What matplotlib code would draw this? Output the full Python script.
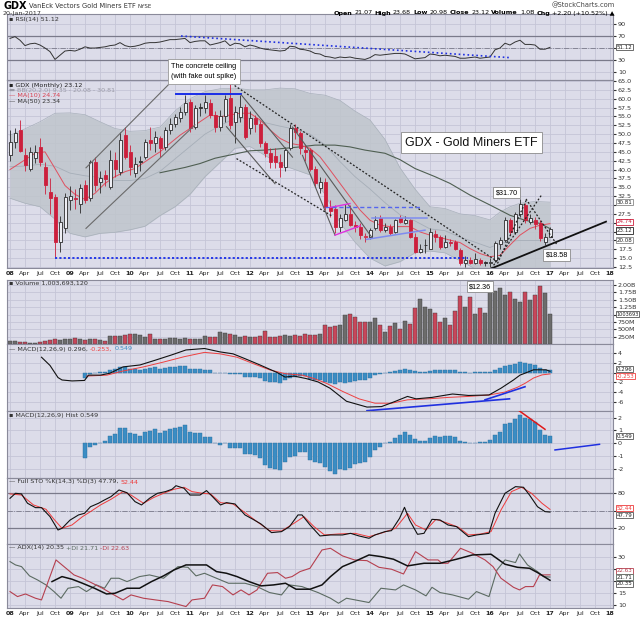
import numpy as np
import matplotlib.pyplot as plt
from matplotlib.patches import Rectangle

plt.rcParams['axes.unicode_minus'] = False

W, H = 640, 619

# ---- monthly candles, month 0 = Jan 2008 ... month 108 = Jan 2017 ----
opens = [44.1, 47.9, 51.2, 44.1, 40.3, 43.4, 46.4, 40.8, 33.7, 32.3, 19.6, 23.4,
         31.5, 32.0, 30.4, 35.6, 31.9, 42.2, 36.6, 38.4, 35.2, 42.7, 39.4, 49.7,
         45.0, 38.9, 42.4, 43.6, 48.3, 47.4, 48.8, 46.4, 51.2, 53.0, 54.5, 56.3,
         59.2, 52.1, 57.6, 57.3, 58.7, 55.4, 52.1, 55.0, 60.1, 53.5, 54.9, 57.7,
         51.6, 54.5, 53.0, 47.4, 44.6, 43.8, 42.0, 40.8, 46.0, 51.6, 50.2, 45.5,
         45.5, 40.3, 34.7, 36.6, 29.5, 29.0, 23.9, 25.7, 27.6, 24.3, 23.9, 21.0,
         21.0, 23.4, 26.2, 22.9, 23.9, 22.4, 26.2, 25.0, 25.7, 21.0, 16.8, 18.8,
         17.7, 21.7, 21.0, 18.2, 19.6, 19.6, 17.3, 13.5, 14.4, 13.5, 14.5, 13.8,
         13.7, 14.4, 19.1, 20.1, 25.7, 22.4, 27.6, 30.0, 25.3, 25.9, 24.8, 19.6,
         21.07]
highs = [51.2, 51.8, 54.0, 46.0, 46.5, 46.8, 48.8, 42.0, 37.5, 33.0, 27.0, 33.5,
         35.3, 34.5, 36.0, 37.0, 42.8, 43.5, 39.5, 39.8, 45.5, 45.0, 50.7, 52.1,
         47.0, 43.5, 43.8, 48.5, 52.1, 51.0, 49.5, 52.0, 54.5, 55.8, 57.8, 61.0,
         59.8, 58.3, 58.8, 61.0, 60.0, 56.5, 56.8, 61.0, 64.3, 58.0, 61.0, 58.5,
         56.5, 55.5, 53.8, 48.0, 46.0, 46.0, 44.5, 46.5, 53.0, 53.0, 51.0, 47.0,
         46.0, 41.0, 38.0, 37.5, 31.5, 30.0, 27.5, 30.3, 30.0, 25.5, 25.0, 22.0,
         23.5, 27.0, 27.3, 25.0, 24.5, 26.0, 27.3, 26.8, 26.0, 22.0, 19.0, 20.5,
         23.5, 23.0, 21.5, 21.5, 20.5, 20.0, 17.8, 15.5, 15.3, 16.5, 15.0, 14.2,
         15.0, 19.8, 21.0, 26.5, 26.3, 28.0, 31.7, 30.6, 27.5, 26.5, 25.8, 22.0,
         23.68]
lows = [42.5, 46.0, 45.0, 39.5, 39.5, 41.8, 41.0, 33.0, 27.5, 15.4, 16.8, 22.0,
        28.5, 29.0, 27.8, 30.5, 31.0, 34.0, 33.5, 35.5, 34.5, 38.0, 38.5, 43.0,
        38.5, 38.0, 39.5, 43.0, 45.5, 45.0, 43.5, 45.5, 50.0, 52.0, 53.5, 55.5,
        50.5, 51.5, 55.0, 56.0, 54.5, 50.5, 51.0, 53.5, 51.5, 47.5, 53.5, 48.5,
        50.0, 50.5, 46.5, 43.5, 40.5, 40.5, 38.0, 39.5, 45.5, 48.5, 44.5, 42.5,
        39.5, 35.0, 33.5, 28.5, 26.5, 22.2, 22.5, 25.5, 24.0, 22.5, 20.5, 19.5,
        20.5, 23.0, 22.5, 22.3, 21.5, 22.0, 25.0, 24.5, 20.8, 16.5, 16.5, 16.5,
        17.5, 19.5, 17.5, 17.8, 18.5, 17.3, 13.1, 12.6, 13.3, 13.3, 13.0, 12.9,
        12.4, 14.0, 17.5, 19.5, 21.5, 21.8, 26.5, 25.0, 24.5, 23.3, 19.8, 18.58,
        20.98]
closes = [47.9, 50.2, 45.3, 41.3, 45.0, 45.0, 42.2, 35.6, 31.9, 19.6, 25.3, 32.3,
          32.6, 31.6, 34.7, 31.4, 42.2, 35.6, 37.5, 37.3, 42.7, 40.1, 48.3, 43.6,
          40.8, 41.7, 42.2, 47.9, 47.4, 49.3, 46.0, 51.2, 53.0, 54.9, 56.3, 58.7,
          51.6, 57.3, 57.4, 59.2, 55.4, 52.1, 55.0, 59.8, 52.6, 56.3, 57.7, 49.3,
          54.5, 53.0, 47.4, 44.6, 42.2, 42.0, 40.8, 45.5, 51.6, 50.7, 46.0, 45.0,
          40.3, 36.1, 36.6, 29.5, 28.3, 23.9, 26.2, 27.6, 24.3, 23.9, 21.5, 21.3,
          22.9, 25.7, 22.9, 23.9, 22.0, 25.7, 25.3, 25.9, 21.0, 16.8, 17.7, 18.6,
          22.4, 21.0, 18.2, 19.6, 19.2, 17.7, 13.5, 14.4, 13.6, 14.7, 13.5, 13.7,
          14.0, 19.3, 20.1, 25.7, 22.4, 27.6, 30.4, 25.7, 26.2, 24.6, 20.6, 21.0,
          23.12]
volume_m = [116, 116, 82, 60, 37, 48, 82, 116, 138, 161, 138, 161,
            161, 217, 161, 138, 161, 161, 138, 116, 285, 285, 274, 308,
            330, 342, 296, 251, 342, 183, 172, 183, 206, 217, 161, 217,
            161, 172, 183, 274, 251, 240, 398, 386, 330, 308, 251, 285,
            240, 240, 285, 432, 251, 251, 285, 308, 274, 296, 274, 330,
            296, 296, 342, 635, 567, 613, 647, 986, 1020, 907, 760, 760,
            760, 873, 647, 409, 613, 703, 499, 782, 681, 1213, 1529, 1269,
            1178, 1065, 737, 873, 647, 1122, 1642, 1269, 1608, 1031, 1213, 1054,
            1777, 1811, 1890, 1664, 1777, 1529, 1438, 1754, 1500, 1664, 1969, 1720,
            1003.7]

rsi = [66, 69, 63, 54, 57, 58, 55, 50, 44, 31, 38, 45,
       46, 45, 48, 52, 50, 50, 51, 52, 54, 55, 59, 54,
       52, 53, 55, 58, 59, 59, 60, 62, 64, 64, 65, 66,
       59, 61, 62, 62, 55, 57, 59, 62, 54, 58, 57, 52,
       55, 53, 50, 48, 47, 46, 45, 46, 53, 52, 48, 47,
       45, 41, 40, 36, 35, 33, 35, 34, 35, 33, 32, 31,
       34, 39, 38, 39, 40, 41, 41, 40, 36, 32, 33, 34,
       40, 39, 37, 38, 37, 36, 33, 33, 34, 35, 33, 34,
       35, 47, 50, 58, 55, 60, 63, 56, 56, 55, 48, 48, 51.12]

# overlays
bb_months = [0, 3, 6, 9, 12, 15, 18, 21, 24, 27, 30, 33, 36, 39, 42, 45, 48, 51, 54,
             57, 60, 63, 66, 69, 72, 75, 78, 81, 84, 87, 90, 93, 96, 98, 100, 102, 105, 108]
bb_upper = [49.7, 51.5, 53.5, 55.9, 56.0, 55.5, 53.5, 51.6, 50.8, 51.0, 52.0, 56.5, 60.0,
            62.0, 62.8, 63.0, 62.5, 62.5, 63.0, 62.8, 61.5, 61.0, 59.5, 56.5, 54.0, 48.5,
            40.5, 34.5, 29.5, 29.0, 27.5, 27.0, 25.8, 28.0, 29.5, 30.5, 31.0, 30.81]
bb_lower = [31.9, 30.5, 29.5, 26.0, 22.0, 21.0, 22.0, 22.3, 23.0, 24.0, 27.0, 29.5, 33.0,
            38.0, 42.0, 46.0, 46.5, 44.0, 41.5, 40.0, 38.5, 33.0, 25.0, 19.5, 15.0, 12.8,
            14.0, 16.5, 17.0, 16.5, 14.3, 12.0, 10.2, 10.3, 10.0, 9.5, 9.0, 9.35]
ma10_months = [0, 5, 7, 9, 11, 13, 15, 17, 19, 21, 23, 25, 27, 29, 30, 32, 34, 36, 38,
               40, 42, 44, 46, 48, 50, 52, 54, 56, 58, 60, 62, 64, 66, 68, 70, 72, 74,
               76, 78, 80, 82, 84, 86, 88, 90, 92, 94, 96, 98, 100, 102, 104, 106, 108]
ma10 = [40.0, 44.6, 45.0, 40.3, 35.5, 33.0, 31.6, 33.3, 36.1, 38.0, 39.4, 40.3, 42.2,
        44.1, 45.0, 47.4, 49.7, 51.6, 53.5, 55.4, 54.9, 55.4, 55.9, 55.9, 54.0, 51.2,
        48.8, 47.4, 46.9, 46.0, 43.6, 39.9, 36.1, 32.3, 28.6, 25.7, 24.3, 23.9, 23.9,
        23.9, 22.4, 21.5, 20.8, 20.1, 19.4, 17.7, 16.3, 15.4, 15.8, 18.7, 21.5, 23.4,
        24.3, 24.74]
ma50_months = [30, 35, 38, 41, 45, 48, 51, 55, 58, 61, 65, 68, 71, 75, 78, 81, 85, 88,
               92, 96, 100, 103, 106, 108]
ma50 = [39.1, 40.6, 41.7, 43.2, 44.4, 45.3, 45.5, 46.0, 46.4, 46.9, 46.9, 46.4, 45.5,
        44.6, 42.8, 40.3, 38.0, 36.1, 32.8, 30.0, 27.1, 25.7, 24.8, 23.34]

macd_months = [6.3, 8.0, 9.6, 10.4, 12.4, 14.9, 15.7, 18.1, 20.0, 22.6, 26.0, 29.1, 32.4,
               35.2, 38.9, 42.0, 44.6, 47.0, 50.0, 53.5, 55.0, 56.8, 59.2, 61.6, 64.0,
               67.3, 71.4, 74.3, 77.1, 79.5, 81.2, 84.4, 88.5, 91.7, 95.8, 98.2, 100.7,
               102.0, 103.0, 104.7, 107.2, 108.0]
macd_line = [3.2, 1.5, -1.0, -1.5, -1.7, -1.6, -0.5, -0.5, -0.1, 1.2, 1.6, 2.6, 3.7,
             4.7, 5.0, 4.3, 3.9, 2.9, 1.6, 0.0, -0.9, -0.7, -1.2, -1.9, -3.2, -5.9,
             -7.1, -7.0, -5.9, -4.9, -5.4, -5.1, -4.4, -4.7, -4.6, -3.2, -1.5, -0.5,
             -0.1, 0.6, 0.6, 0.296]
signal_months = [15.3, 19.4, 22.6, 26.7, 30.7, 34.8, 38.9, 42.0, 45.4, 48.6, 51.9, 55.0,
                 58.4, 60.8, 63.3, 66.6, 69.8, 73.0, 76.3, 79.5, 83.6, 87.7, 91.7, 95.8,
                 99.0, 101.5, 103.0, 104.7, 106.4, 108.0]
signal_line = [-0.7, -0.5, 0.35, 1.2, 2.2, 3.3, 4.2, 3.9, 3.2, 1.9, 0.6, -0.2, -0.5,
               -1.2, -2.2, -3.9, -5.4, -6.3, -6.3, -5.6, -5.4, -5.1, -4.9, -4.6, -4.0,
               -3.0, -2.2, -1.1, -0.45, -0.253]
hist_start = 15
macd_hist = [-1.17, -0.26, -0.13, 0.05, 0.2, 0.6, 0.7, 1.22, 1.17, 0.78,
             0.7, 0.57, 0.86, 0.96, 1.09, 0.83, 0.96, 1.12, 1.22, 1.3,
             1.43, 0.86, 0.83, 0.83, 0.52, 0.47, 0.0, -0.13, 0.0, -0.34,
             -0.34, -0.34, -0.86, -0.86, -0.91, -1.17, -1.69, -1.95, -2.0, -2.08,
             -1.49, -1.07, -0.96, -0.65, -0.7, -1.3, -1.43, -1.56, -1.82, -2.16,
             -2.4, -2.0, -2.08, -1.9, -1.64, -1.56, -1.43, -1.04, -0.52, -0.26,
             0.0, 0.08, 0.44, 0.65, 0.86, 0.65, 0.34, 0.18, 0.2, 0.39,
             0.57, 0.52, 0.57, 0.57, 0.52, 0.2, 0.08, 0.0, 0.05, 0.13,
             0.13, 0.23, 0.65, 0.91, 1.48, 1.56, 1.9, 2.21, 2.0, 1.9,
             1.64, 1.04, 0.65, 0.549]

sto_k_months = [0, 1.1, 2.3, 3.5, 5.1, 6.3, 8.0, 9.6, 10.4, 12.0, 13.7, 14.9, 16.1, 17.7,
                18.9, 20.2, 21.8, 23.4, 25.0, 26.3, 27.9, 29.5, 31.1, 32.4, 33.2, 34.8,
                36.0, 38.0, 39.3, 40.5, 42.1, 43.3, 45.0, 47.0, 48.6, 50.2, 52.3, 54.3,
                55.9, 57.6, 58.4, 60.0, 62.0, 64.1, 66.5, 68.1, 69.8, 71.8, 73.0, 75.0,
                76.3, 77.9, 78.9, 79.9, 81.5, 82.8, 84.4, 86.0, 87.6, 89.3, 91.7, 93.3,
                95.8, 97.0, 99.0, 101.1, 102.7, 103.9, 105.5, 107.0, 108.0]
sto_k = [71.4, 80, 78.9, 62.9, 55.4, 55.4, 40, 17.1, 20, 34, 42.9, 45.7, 57, 62.9,
         68.6, 74.3, 85.7, 81, 65.7, 60, 71.4, 80, 82.9, 86.9, 93, 88.6,
         77, 77, 84.6, 74.3, 60, 64, 61.7, 42.9, 35.4, 27.4, 12.6, 14.3,
         22.9, 42.9, 42.9, 25.7, 6.9, 8.6, 8.6, 11.4, 6.9, 2.9, 8.6, 14.3,
         16.0, 37, 56, 34.3, 9.7, 11.4, 35.4, 34.3, 25.7, 22.9, 5.7, 8.6,
         11.4, 45.7, 80, 91.4, 90.3, 77, 57, 48.6, 47.79]
sto_d_months = [0, 2.3, 4.7, 7.2, 8.8, 10.4, 12.4, 14.5, 16.1, 18.1, 20.2, 22.6, 24.2,
                26.7, 28.7, 30.7, 32.8, 34.8, 36.4, 38.5, 40.1, 42.1, 44.6, 47.0, 49.4,
                51.9, 54.3, 56.8, 58.8, 60.8, 62.9, 65.7, 69.0, 71.8, 74.6, 77.1, 79.5,
                81.1, 83.2, 85.2, 87.6, 89.7, 91.7, 94.2, 96.2, 98.2, 100.3, 102.3,
                104.3, 106.4, 108.0]
sto_d = [78.9, 77, 60, 52.6, 35.4, 20, 25.7, 40, 48.6, 60, 69.7, 82.9, 77,
         62.9, 72.6, 80, 86.9, 90.3, 82.9, 80, 78.9, 64, 61.7, 46.9, 31.4,
         16, 15.4, 28.6, 40, 22.9, 8.6, 10.3, 11.4, 5.7, 12.6, 20, 45.7,
         25.7, 17.1, 35.4, 28.6, 21.7, 8.6, 10.3, 14.3, 51.4, 82.9, 90.3,
         80, 62.9, 52.44]

adx_months = [8.4, 10.4, 12.4, 14.5, 16.9, 19.3, 21.0, 23.4, 25.9, 28.3, 30.7, 32.8, 35.2,
              39.3, 41.3, 43.3, 45.4, 47.8, 50.2, 52.7, 55.1, 57.2, 60.0, 62.4, 64.1,
              66.5, 68.9, 71.8, 74.2, 76.7, 79.5, 82.8, 86.0, 89.3, 92.5, 96.2, 99.0,
              101.5, 103.9, 105.5, 108.0]
adx = [19.8, 21.9, 20.8, 19.1, 17.0, 14.6, 14.9, 17.0, 17.0, 19.8, 22.2, 24.7, 26.8,
       26.8, 24.0, 23.3, 21.9, 19.8, 18.0, 18.4, 19.1, 16.6, 16.6, 18.4, 21.9,
       26.1, 28.2, 31.0, 30.3, 29.2, 26.4, 27.5, 27.5, 29.2, 31.0, 31.3, 27.1,
       25.8, 25.4, 23.6, 20.35]
pdi_months = [0, 1.1, 2.3, 3.9, 5.5, 7.2, 8.8, 10.2, 11.6, 13.7, 15.3, 17.3, 18.9, 20.2,
              21.8, 23.4, 25.9, 27.9, 30.7, 33.6, 35.6, 37.2, 38.9, 41.3, 43.7, 47.0,
              49.4, 51.9, 54.3, 55.9, 58.4, 61.6, 64.1, 65.7, 67.3, 69.8, 71.8, 74.2,
              77.1, 78.7, 81.1, 83.2, 84.4, 86.0, 88.5, 91.7, 93.3, 95.8, 97.4, 99.0,
              101.1, 101.9, 103.5, 105.5, 106.7, 108.0]
pdi = [28.2, 26.8, 26.1, 22.2, 20.5, 18.4, 15.6, 12.8, 17.0, 17.7, 15.6, 18.4, 17.0, 21.2,
       21.2, 19.8, 21.9, 22.6, 21.2, 26.1, 25.8, 22.2, 23.3, 21.2, 19.1, 19.1,
       17.7, 15.2, 14.2, 18.4, 17.7, 15.2, 12.8, 10.7, 12.8, 11.8, 11.0, 17.0,
       16.3, 18.4, 16.3, 13.8, 17.4, 15.2, 14.2, 12.4, 15.6, 13.5, 24.7, 28.9,
       27.8, 31.4, 26.8, 24.0, 21.9, 21.71]
mdi_months = [0, 1.5, 3.1, 5.1, 6.3, 9.2, 10.8, 12.8, 14.5, 16.5, 18.5, 20.2, 22.6, 24.2,
              26.7, 29.1, 31.6, 35.2, 36.4, 38.9, 40.5, 42.5, 44.6, 46.2, 47.8, 49.4,
              51.5, 53.5, 55.1, 56.4, 58.0, 60.0, 62.4, 64.1, 66.5, 68.9, 71.4, 73.8,
              76.3, 78.7, 81.1, 83.6, 85.6, 86.4, 87.6, 90.1, 92.5, 95.0, 96.6, 98.2,
              100.7, 101.9, 103.1, 104.7, 105.9, 108.0]
mdi = [15.6, 13.5, 14.6, 12.8, 12.1, 28.9, 26.1, 22.6, 21.2, 19.1, 17.0, 14.9, 12.1, 14.2,
       12.8, 12.1, 11.4, 9.3, 12.1, 12.8, 18.4, 17.7, 14.2, 16.3, 14.2, 16.3,
       23.3, 23.6, 21.2, 21.9, 24.0, 25.4, 33.1, 33.8, 30.6, 28.9, 28.6, 25.8,
       25.0, 23.0, 32.4, 28.9, 28.9, 27.5, 27.5, 33.8, 31.7, 28.9, 26.1, 21.2,
       17.4, 16.3, 17.7, 17.7, 22.6, 22.63]

# trend lines drawn on the chart: (month, price) pairs
up_channel = [((15.2, 40.5), (32.0, 64.4)), ((15.2, 23.4), (37.0, 52.6))]
ceiling = ((33.2, 61.2), (46.2, 61.2))
floor_line = ((9.0, 15.0), (91.5, 15.0))
fall_solid = [((46.3, 61.0), (56.5, 43.5)), ((43.3, 52.1), (53.0, 36.0)),
              ((56.5, 52.0), (72.3, 21.0)), ((58.5, 44.0), (65.0, 21.5))]
fall_dotted = [((44.3, 64.3), (97.0, 14.5)), ((45.3, 43.1), (64.5, 26.8)),
               ((103.2, 31.7), (109.3, 19.0))]
magenta_lines = [((64.0, 29.3), (68.0, 30.4)), ((65.0, 21.5), (70.0, 24.1))]
range_dashed = ((63.0, 29.5), (82.0, 29.5))
range_2014 = [((72.3, 26.2), (83.3, 26.2)), ((71.3, 20.3), (83.0, 22.9))]
support_2016 = ((96.3, 12.1), (119.2, 25.3))
rise_2016 = [((96.3, 12.1), (106.3, 32.8)), ((97.5, 13.5), (103.3, 31.5))]
rsi_trend = ((34.2, 70.0), (99.9, 34.0))
macd_trends = [((71.4, -7.85), (99.9, -5.4)), ((95.0, -5.6), (103.0, -2.9))]
hist_down = ((101.9, 2.52), (107.0, 1.09))
hist_up = ((109.0, -0.52), (117.9, -0.08))

# ---------------- drawing ----------------
BG = '#dcdce9'
GRID = '#c5c5d6'
RED = '#cc1f3c'
DARK = '#2a2a2a'
BLUE_BAR = '#3b8dc4'

fig = plt.figure(figsize=(W / 100, H / 100), dpi=100)
fig.patch.set_facecolor('white')


def panel(top, bottom):
    ax = fig.add_axes([7 / W, 1 - bottom / H, 606 / W, (bottom - top) / H])
    ax.set_facecolor(BG)
    ax.set_xlim(-0.6, 120.6)
    ax.set_xticks(range(0, 121, 3))
    ax.tick_params(axis='x', length=0, labelbottom=False)
    ax.yaxis.tick_right()
    ax.tick_params(axis='y', labelsize=4.6, length=2, pad=1.5, colors='#333333')
    ax.grid(True, color=GRID, lw=0.6)
    ax.set_axisbelow(True)
    for s in ax.spines.values():
        s.set_color('#8a8a9a')
        s.set_linewidth(0.8)
    return ax


def seg(ax, line, **kw):
    (x0, y0), (x1, y1) = line
    ax.plot([x0, x1], [y0, y1], **kw)


def value_box(ax, y, text, ec='#555555', tc='#222222', size=4.0):
    ax.annotate(text, xy=(1, y), xycoords=('axes fraction', 'data'), xytext=(2.5, 0),
                textcoords='offset points', fontsize=size, color=tc, va='center', ha='left',
                annotation_clip=False, zorder=10,
                bbox=dict(boxstyle='square,pad=0.1', fc='white', ec=ec, lw=0.6))


renderer = fig.canvas.get_renderer()


def text_run(x, y, parts, size=4.8, align='left'):
    items, cx = [], 0.0
    for s, kw in parts:
        props = dict(fontsize=size, va='center', ha='left', zorder=12)
        props.update(kw)
        t = fig.text(0, 1 - y / H, s, **props)
        w = t.get_window_extent(renderer=renderer).width
        items.append((t, cx))
        cx += w + size * 0.45
    start = x if align == 'left' else x - cx
    for t, off in items:
        t.set_x((start + off) / W)


months = np.arange(len(closes))
tick_m = list(range(0, 121, 3))
tick_lab = [f'{8 + m // 12:02d}' if m % 12 == 0 else ['', 'Apr', 'Jul', 'Oct'][(m % 12) // 3]
            for m in tick_m]

# --- RSI panel ---
ax_rsi = panel(14, 80)
ax_rsi.set_ylim(-3.3, 106.7)
ax_rsi.set_yticks([10, 30, 50, 70, 90])
ax_rsi.set_yticklabels(['10', '30', '', '70', '90'])
ax_rsi.axhline(70, color='#7a7a8a', lw=0.9)
ax_rsi.axhline(30, color='#7a7a8a', lw=0.9)
ax_rsi.axhline(50, color='#7a7a8a', lw=0.6, ls='-.')
ax_rsi.plot(months, rsi, color='#333333', lw=0.7)
seg(ax_rsi, rsi_trend, color='#2030e0', lw=1.2, ls=':')
value_box(ax_rsi, rsi[-1], '51.12')

# --- price panel ---
ax = panel(80, 268)
ax.set_ylim(12.22, 65.28)
price_ticks = np.arange(12.5, 65.01, 2.5)
ax.set_yticks(price_ticks)
ax.set_yticklabels(['' if v in (20.0, 22.5, 25.0, 30.0) else f'{v:.1f}' for v in price_ticks])
ax.set_xticklabels(tick_lab)
ax.tick_params(axis='x', labelbottom=True, labelsize=4.6, pad=2.5, colors='#222222')
for lab in ax.get_xticklabels():
    if lab.get_text().isdigit():
        lab.set_fontweight('bold')

bb_mid = [(u + l) / 2 for u, l in zip(bb_upper, bb_lower)]
ax.fill_between(bb_months, bb_lower, bb_upper, color='#bfc5cc', alpha=0.85, lw=0, zorder=1)
ax.plot(bb_months, bb_upper, color='#a8b0ba', lw=0.5, zorder=1)
ax.plot(bb_months, bb_lower, color='#a8b0ba', lw=0.5, zorder=1)
ax.plot(bb_months, bb_mid, color='#a6aeb8', lw=0.6, zorder=1.5)
ax.plot(ma50_months, ma50, color='#4f5f52', lw=0.8, zorder=2)
ax.plot(ma10_months, ma10, color='#e0505f', lw=0.7, zorder=2)

for m in months:
    o, h, l, c = opens[m], highs[m], lows[m], closes[m]
    prev = closes[m - 1] if m else o
    col = RED if c < prev else DARK
    lo, hi = min(o, c), max(o, c)
    ax.vlines(m, hi, h, color=col, lw=0.6, zorder=3)
    ax.vlines(m, l, lo, color=col, lw=0.6, zorder=3)
    ax.add_patch(Rectangle((m - 0.3, lo), 0.6, max(hi - lo, 0.15),
                           facecolor=col if c < o else '#eeeef4', edgecolor=col,
                           lw=0.6, zorder=3.5))

for ln in up_channel:
    seg(ax, ln, color='#6a6a6a', lw=0.8, zorder=4)
seg(ax, ceiling, color='#1a2ee8', lw=1.4, zorder=4)
seg(ax, floor_line, color='#1a2ee8', lw=1.3, ls=(0, (1.2, 1.2)), zorder=4)
for ln in fall_solid:
    seg(ax, ln, color='#5a5a5a', lw=0.8, zorder=4)
for ln in fall_dotted:
    seg(ax, ln, color='#222222', lw=0.9, ls=(0, (1.5, 1.5)), zorder=4)
for ln in magenta_lines:
    seg(ax, ln, color='#e030e0', lw=1.0, zorder=4)
seg(ax, range_dashed, color='#5566ee', lw=1.0, ls=(0, (3, 2)), zorder=4)
for ln in range_2014:
    seg(ax, ln, color='#7f8cf0', lw=1.1, zorder=4)
seg(ax, support_2016, color='#111111', lw=1.3, zorder=4)
for ln in rise_2016:
    seg(ax, ln, color='#222222', lw=0.9, ls=(0, (1.5, 1.5)), zorder=4)

box = dict(boxstyle='square,pad=0.3', fc='white', ec='#8a8a8a', lw=0.6)
ax.text(92.3, 47.6, 'GDX - Gold Miners ETF', ha='center', va='center', fontsize=9,
        family='Liberation Sans', color='#111111', bbox=dict(boxstyle='square,pad=0.35',
        fc='white', ec='#8a8a8a', lw=0.6), zorder=6)
ax.text(97.1, 33.5, '$31.70', ha='left', va='center', fontsize=5.2,
        family='Liberation Sans', bbox=box, zorder=6)
ax.text(107.1, 15.9, '$18.58', ha='left', va='center', fontsize=5.2,
        family='Liberation Sans', bbox=box, zorder=6)

value_box(ax, bb_upper[-1], '30.81', ec='#888888')
value_box(ax, 25.3, '24.74', ec=RED, tc=RED)
value_box(ax, 22.8, '23.12', ec='#222222')
value_box(ax, bb_mid[-1], '20.08', ec='#888888')

fig.text(204 / W, 1 - 71.5 / H, 'The concrete ceiling\n(with fake out spike)', ha='center',
         va='center', fontsize=5.3, family='Liberation Sans', linespacing=1.7,
         multialignment='left', zorder=12,
         bbox=dict(boxstyle='square,pad=0.45', fc='white', ec='#999999', lw=0.6))

# --- volume panel ---
ax_v = panel(280, 344)
ax_v.set_ylim(0, 2170)
ax_v.set_yticks([250, 500, 750, 1000, 1250, 1500, 1750, 2000])
ax_v.set_yticklabels(['250M', '500M', '750M', '', '1.25B', '1.50B', '1.75B', '2.00B'])
vcol = ['#c8465a' if (m and closes[m] < closes[m - 1]) else '#6c6c6c' for m in months]
ax_v.bar(months, volume_m, width=0.72, color=vcol, edgecolor='#3a3a3a', lw=0.3, zorder=2)
ax_v.text(94.0, 1940, '$12.36', ha='center', va='center', fontsize=5.2,
          family='Liberation Sans', bbox=box, zorder=6)
value_box(ax_v, volume_m[-1], '1003693', size=3.6)

# --- MACD panel ---
ax_m = panel(344, 411)
ax_m.set_ylim(-7.91, 5.93)
ax_m.set_yticks([-6, -4, -2, 0, 2, 4])
ax_m.set_yticklabels(['-6', '-4', '-2', '', '2', '4'])
hist_m = np.arange(hist_start, hist_start + len(macd_hist))
ax_m.bar(hist_m, macd_hist, width=0.72, color=BLUE_BAR, edgecolor='#2a6e9c', lw=0.3, zorder=2)
ax_m.plot(signal_months, signal_line, color='#ee4040', lw=0.7, zorder=3)
ax_m.plot(macd_months, macd_line, color='#111111', lw=0.8, zorder=3)
for ln in macd_trends:
    seg(ax_m, ln, color='#2030e0', lw=1.2, zorder=4)
value_box(ax_m, 0.75, '0.296')
value_box(ax_m, -0.75, '-0.253', ec='#ee4040', tc='#ee4040')

# --- MACD histogram panel ---
ax_h = panel(411, 478)
ax_h.set_ylim(-2.71, 2.52)
ax_h.set_yticks([-2, -1, 0, 1, 2])
ax_h.set_yticklabels(['-2', '-1', '0', '1', '2'])
ax_h.bar(hist_m, macd_hist, width=0.72, color=BLUE_BAR, edgecolor='#2a6e9c', lw=0.3, zorder=2)
seg(ax_h, hist_down, color='#e01818', lw=1.1, zorder=4)
seg(ax_h, hist_up, color='#2030e0', lw=1.1, zorder=4)
value_box(ax_h, macd_hist[-1], '0.549')

# --- stochastics panel ---
ax_s = panel(478, 544)
ax_s.set_ylim(-6.9, 106.2)
ax_s.set_yticks([20, 50, 80])
ax_s.set_yticklabels(['20', '', '80'])
ax_s.axhline(80, color='#7a7a8a', lw=0.9)
ax_s.axhline(20, color='#7a7a8a', lw=0.9)
ax_s.axhline(50, color='#7a7a8a', lw=0.6, ls='-.')
ax_s.plot(sto_d_months, sto_d, color='#ee3a3a', lw=0.7, zorder=3)
ax_s.plot(sto_k_months, sto_k, color='#111111', lw=0.8, zorder=3)
value_box(ax_s, 54.5, '52.44', ec='#ee3a3a', tc='#ee3a3a')
value_box(ax_s, 42.5, '47.79')

# --- ADX panel ---
ax_a = panel(544, 608)
ax_a.set_ylim(8.7, 35.6)
ax_a.set_yticks([10, 15, 20, 25, 30])
ax_a.set_yticklabels(['10', '15', '', '', '30'])
ax_a.set_xticklabels(tick_lab)
ax_a.tick_params(axis='x', labelbottom=True, labelsize=4.6, pad=2.5, colors='#222222')
for lab in ax_a.get_xticklabels():
    if lab.get_text().isdigit():
        lab.set_fontweight('bold')
ax_a.plot(pdi_months, pdi, color='#5c6b62', lw=0.8, zorder=3)
ax_a.plot(mdi_months, mdi, color='#b5404f', lw=0.8, zorder=3)
ax_a.plot(adx_months, adx, color='#111111', lw=1.1, zorder=3)
value_box(ax_a, 24.4, '22.63', ec='#b5404f', tc='#b5404f')
value_box(ax_a, 21.6, '21.71', ec='#5c6b62')
value_box(ax_a, 18.8, '20.35')

# --- header and panel captions ---
text_run(3, 6, [('GDX', dict(fontweight='bold', fontsize=7)),
                ('VanEck Vectors Gold Miners ETF', dict(color='#333333')),
                ('NYSE', dict(color='#333333', fontsize=4))], size=4.8)
text_run(3, 13, [('20-Jan-2017', dict(color='#333333'))], size=4.6)
text_run(617, 5, [('@StockCharts.com', dict(color='#444444'))], size=4.8, align='right')
text_run(617, 13, [('Open', dict(fontweight='bold')), ('21.07', {}),
                   ('High', dict(fontweight='bold')), ('23.68', {}),
                   ('Low', dict(fontweight='bold')), ('20.98', {}),
                   ('Close', dict(fontweight='bold')), ('23.12', {}),
                   ('Volume', dict(fontweight='bold')), ('1.0B', {}),
                   ('Chg', dict(fontweight='bold')), ('+2.20 (+10.52%) \u25b2', {})],
         size=4.6, align='right')

cap = 4.6
text_run(9, 19, [('\u25aa RSI(14) 51.12', dict(color='#333333'))], size=cap)
text_run(9, 85, [('\u25aa GDX (Monthly) 23.12', dict(color='#222222'))], size=cap)
text_run(9, 90.5, [('\u25ac BB(20,2.0) 9.35 - 20.08 - 30.81', dict(color='#9a9aa6'))], size=cap)
text_run(9, 95.8, [('\u2014 MA(10) 24.74', dict(color='#d8404f'))], size=cap)
text_run(9, 101.5, [('\u2014 MA(50) 23.34', dict(color='#333333'))], size=cap)
text_run(9, 283, [('\u25aa Volume 1,003,693,120', dict(color='#333333'))], size=cap)
text_run(9, 349, [('\u2014 MACD(12,26,9) 0.296,', dict(color='#333333')),
                  ('-0.253,', dict(color='#ee4040')), ('0.549', dict(color=BLUE_BAR))], size=cap)
text_run(9, 415, [('\u25aa MACD(12,26,9) Hist 0.549', dict(color='#333333'))], size=cap)
text_run(9, 482, [('\u2014 Full STO %K(14,3) %D(3) 47.79,', dict(color='#333333')),
                  ('52.44', dict(color='#ee3a3a'))], size=cap)
text_run(9, 548, [('\u2014 ADX(14) 20.35', dict(color='#333333')),
                  ('+DI 21.71', dict(color='#5c6b62')), ('-DI 22.63', dict(color='#b5404f'))],
         size=cap)

fig.savefig('out.png', dpi=100, facecolor='white')
